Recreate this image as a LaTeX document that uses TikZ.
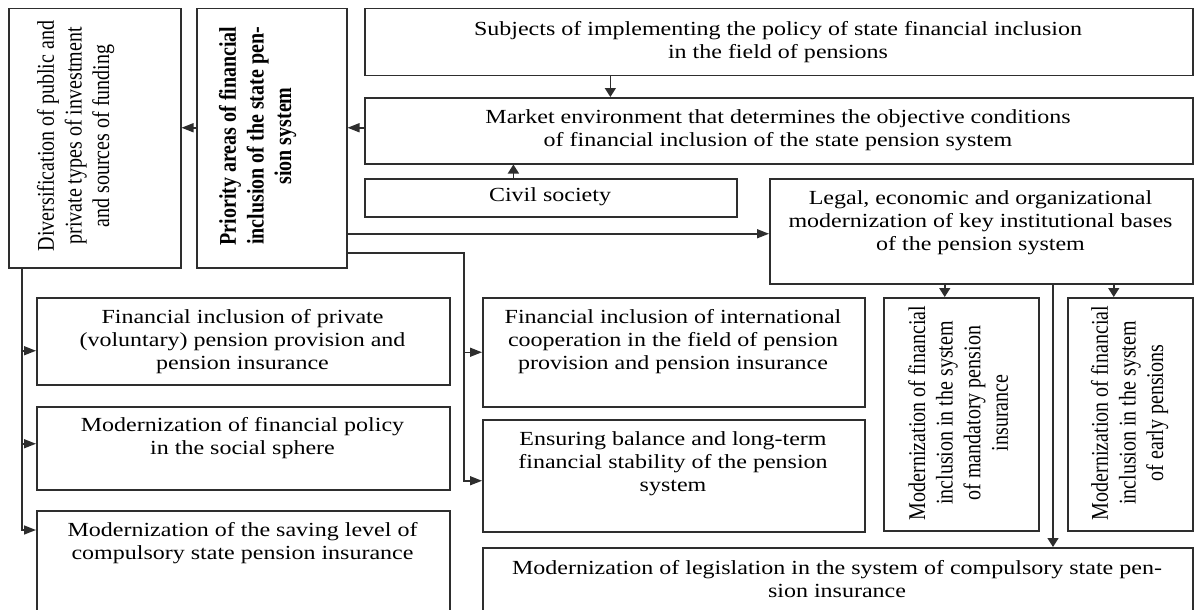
\documentclass[tikz,border=0pt]{standalone}
\usepackage{fontspec}
\usepackage{graphicx}
\setmainfont{Liberation Serif}[FakeStretch=1.2]
\newfontfamily\rotfont{Liberation Serif}
\usetikzlibrary{arrows.meta,calc}
% stacked, centred lines for the upright (rotated) labels
\newcommand\vlines[1]{\scalebox{1}[1.2]{\begin{tabular}{@{}c@{}}#1\end{tabular}}}
\definecolor{ink}{gray}{0.18}
\begin{document}
\begin{tikzpicture}[x=1pt,y=-1pt,
  box/.style={draw=ink, line width=1.5pt, inner sep=0pt, anchor=north west},
  txt/.style={align=center, inner sep=0pt, font=\fontsize{20}{23}\selectfont},
  vtxt/.style={rotate=90, inner sep=0pt, font=\rotfont\fontsize{20}{23}\selectfont},
  link/.style={draw=ink, line width=1.5pt, line join=miter},
  harr/.style={link, -{Triangle[length=12pt,width=9pt]}},
  varr/.style={link, -{Triangle[length=9pt,width=11pt]}}]
\useasboundingbox (0,0) rectangle (1194,610);
\clip (0,0) rectangle (1194,610);

% ---- frames ----
\node[box, minimum width=172, minimum height=259] (div)   at (8,8)     {};
\node[box, minimum width=150, minimum height=259] (prio)  at (196,8)   {};
\node[box, minimum width=828, minimum height=67]  (subj)  at (364,8)   {};
\node[box, minimum width=828, minimum height=66]  (mk)    at (364,97)  {};
\node[box, minimum width=372, minimum height=38]  (civ)   at (364,178) {};
\node[box, minimum width=423, minimum height=105] (legal) at (769,178) {};
\node[box, minimum width=413, minimum height=87]  (left1) at (36,297)  {};
\node[box, minimum width=413, minimum height=83]  (left2) at (36,406)  {};
\node[box, minimum width=413, minimum height=130] (left3) at (36,510)  {};
\node[box, minimum width=382, minimum height=109] (mid1)  at (482,297) {};
\node[box, minimum width=382, minimum height=112] (mid2)  at (482,419) {};
\node[box, minimum width=155, minimum height=233] (mand)  at (883,297) {};
\node[box, minimum width=125, minimum height=233] (early) at (1067,297) {};
\node[box, minimum width=710, minimum height=100] (legis) at (482,547) {};

% ---- labels ----
\node[txt] (subjT)  at (778,42)    {Subjects of implementing the policy of state financial inclusion\\in the field of pensions};
\node[txt] (mkT)    at (778,130.5) {Market environment that determines the objective conditions\\of financial inclusion of the state pension system};
\node[txt] (civT)   at (550,197)   {Civil society};
\node[txt] (legalT) at (980.5,223) {Legal, economic and organizational\\modernization of key institutional bases\\of the pension system};
\node[txt] (left1T) at (242.5,342) {Financial inclusion of private\\(voluntary) pension provision and\\pension insurance};
\node[txt] (left2T) at (242.5,438.5) {Modernization of financial policy\\in the social sphere};
\node[txt] (left3T) at (242.5,543.5) {Modernization of the saving level of\\compulsory state pension insurance};
\node[txt] (mid1T)  at (673,342)   {Financial inclusion of international\\cooperation in the field of pension\\provision and pension insurance};
\node[txt] (mid2T)  at (673,464)   {Ensuring balance and long-term\\financial stability of the pension\\system};
\node[txt] (legisT) at (837,579.5) {Modernization of legislation in the system of compulsory state pen-\\sion insurance};

\node[vtxt] (divT)   at (76,136)  {\vlines{Diversification of public and\\private types of investment\\and sources of funding}};
\node[vtxt, font=\rotfont\bfseries\fontsize{20}{23}\selectfont] (prioT) at (258,136)
  {\vlines{Priority areas of financial\\inclusion of the state pen-\\sion system}};
\node[vtxt] (mandT)  at (961,413) {\vlines{Modernization of financial\\inclusion in the system\\of mandatory pension\\insurance}};
\node[vtxt] (earlyT) at (1130,413) {\vlines{Modernization of financial\\inclusion in the system\\of early pensions}};

% ---- connectors ----
\coordinate (sa) at ($(subj.south west)!0.297!(subj.south east)$);
\draw[varr] (sa) -- (sa |- mk.north);
\coordinate (ca) at ($(civ.north west)!0.40!(civ.north east)$);
\draw[varr] (ca) -- (ca |- mk.south);

\draw[harr] ([yshift=3pt]mk.west) -- ([yshift=3pt]mk.west -| prio.east);
\draw[harr] ([yshift=3pt]mk.west -| prio.west) -- ([yshift=3pt]mk.west -| div.east);

\draw[harr] ([yshift=-2.5pt]legal.west -| prio.east) -- ([yshift=-2.5pt]legal.west);

\coordinate (pj) at (464,253);
\draw[harr] (pj -| prio.east) -- (pj) |- ([yshift=-5pt]mid2.west);
\draw[harr] (pj |- mid1.west) -- (mid1.west);

\coordinate (dj) at ([xshift=14pt]div.south west);
\draw[harr] (dj) |- ([yshift=-20pt]left3.north west);
\draw[harr] ([yshift=-9.5pt]left1.west -| dj) -- ([yshift=-9.5pt]left1.west);
\draw[harr] ([yshift=4.5pt]left2.west -| dj) -- ([yshift=4.5pt]left2.west);

\draw[varr] ([xshift=-16.5pt]mand.north |- legal.south) -- ([xshift=-16.5pt]mand.north);
\draw[varr] ([xshift=-16.5pt]early.north |- legal.south) -- ([xshift=-16.5pt]early.north);
\coordinate (lg) at (1053,283);
\draw[varr] (lg |- legal.south) -- (lg |- legis.north);
\end{tikzpicture}
\end{document}
